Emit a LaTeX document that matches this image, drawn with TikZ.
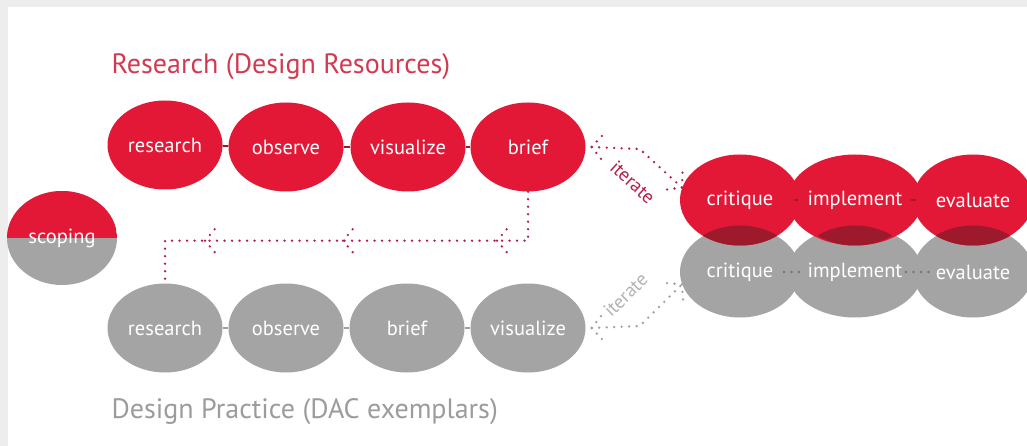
\documentclass[tikz,border=0pt]{standalone}
\usepackage{fontspec}
\setmainfont{PT Sans}
\usetikzlibrary{shapes.geometric,calc,decorations.markings}
\definecolor{dacred}{HTML}{E31837}
\definecolor{dacgray}{HTML}{A4A4A4}
\definecolor{darkred}{HTML}{9C1A2B}
\definecolor{dotred}{HTML}{B32048}
\definecolor{dotgray}{HTML}{A0A0A0}
\definecolor{dotdark}{HTML}{747474}
\definecolor{titlered}{HTML}{D23A52}
\definecolor{titlegray}{HTML}{9C9C9C}
\definecolor{bggray}{HTML}{EDEDED}
\NewDocumentCommand{\darkoverlap}{m m}{
    \begin{scope}
        \clip (#1) ellipse [x radius=60, y radius=45.5];
        \fill[darkred] (#2) ellipse [x radius=60, y radius=46.5];
    \end{scope}
}
\tikzset{
    blob/.style={ellipse, inner sep=0pt, minimum width=115pt, minimum height=89pt,
        text=white, font=\fontsize{20.5}{22}\selectfont},
    redblob/.style={blob, fill=dacred},
    grayblob/.style={blob, fill=dacgray},
    wideblob/.style={minimum width=120pt, minimum height=91pt},
    rdots/.style={draw=dotred, line width=2.6pt, line cap=round, dash pattern=on 0pt off 7.5pt},
    gdots/.style={rdots, draw=dotgray},
    ddots/.style={rdots, draw=dotdark},
    redjoin/.style={draw=darkred, line width=1.6pt},
    grayjoin/.style={draw=dotgray, line width=1.6pt},
    itlabel/.style={font=\fontsize{19}{20}\selectfont, inner sep=2pt},
    tipends/.style={postaction={decorate, decoration={markings,
        mark=at position 0 with {\draw[#1] (0,0) -- (11,-13) (0,0) -- (11,13);},
        mark=at position 0.999 with {\draw[#1] (0,0) -- (-11,-13) (0,0) -- (-11,13);}}}},
    midtips/.style={postaction={decorate, decoration={markings,
        mark=at position 80pt with {\draw[#1] (0,0) -- (-11,-13) (0,0) -- (-11,13);},
        mark=at position 234pt with {\draw[#1] (0,0) -- (-11,-13) (0,0) -- (-11,13);},
        mark=at position 372pt with {\draw[#1] (0,0) -- (-11,-13) (0,0) -- (-11,13);}}}}
}
\begin{document}
\begin{tikzpicture}[x=1pt, y=-1pt]
    \useasboundingbox (0,0) rectangle (1027,446);
    \fill[bggray] (0,0) rectangle (1027,446);
    \fill[white] (8,7) rectangle (1027,446);

    \node[anchor=west, text=titlered, font=\fontsize{28}{30}\selectfont] (toptitle) at (108,67) {Research (Design Resources)};
    \node[anchor=west, text=titlegray, font=\fontsize{28}{30}\selectfont] (bottitle) at (108,412) {Design Practice (DAC exemplars)};

    \node[grayblob, minimum width=110pt, minimum height=94pt,
        path picture={\fill[dacred] (path picture bounding box.north west) rectangle (path picture bounding box.east);}]
        (sc) at (62,238) {scoping};

    \node[redblob] (r1) at (165,145) {research};
    \node[redblob] (o1) at (286,147) {observe};
    \node[redblob] (vz1) at (408,147) {visualize};
    \node[redblob] (b1) at (528,147) {brief};
    \draw[redjoin] (r1) -- (o1);
    \draw[redjoin] (o1) -- (vz1);
    \draw[redjoin] (vz1) -- (b1);

    \node[grayblob] (r2) at (165,328) {research};
    \node[grayblob] (o2) at (286,328) {observe};
    \node[grayblob] (b2) at (407,328) {brief};
    \node[grayblob] (vz2) at (528,328) {visualize};
    \draw[grayjoin] (r2) -- (o2);
    \draw[grayjoin] (o2) -- (b2);
    \draw[grayjoin] (b2) -- (vz2);

    \node[grayblob, wideblob] (c2) at (740,272) {critique};
    \node[grayblob, wideblob] (i2) at (855,272) {implement};
    \node[grayblob, wideblob] (e2) at (973,272) {evaluate};
    \node[redblob, wideblob] (c1) at (740,200) {critique};
    \node[redblob, wideblob] (i1) at (855,200) {implement};
    \node[redblob, wideblob] (e1) at (973,200) {evaluate};
    \darkoverlap{c1}{c2}
    \darkoverlap{i1}{i2}
    \darkoverlap{e1}{e2}
    \draw[redjoin] ($(c1)+(55,0)$) -- ($(i1)+(-57,0)$);
    \draw[redjoin] ($(i1)+(56,0)$) -- ($(e1)+(-57,0)$);
    \draw[ddots] ($(c2)+(44,0)$) -- ($(i2)+(-50,0)$);
    \draw[ddots] ($(i2)+(51,0)$) -- ($(e2)+(-42,0)$);

    \draw[rdots, midtips=rdots] (b1.south) -- ++(0,49) -| (r2.north);

    \draw[rdots, tipends=rdots] ($(b1.east)+(6,0)$) -- ++(48,2) -- (c1.168)
        node[pos=0.3, sloped, below=19pt, itlabel, text=dotred] {iterate};
    \draw[gdots, tipends=gdots] ($(vz2.east)+(6,0)$) -- ++(48,-2) -- (c2.192)
        node[pos=0.2, sloped, above=22pt, itlabel, text=dotgray!80] {iterate};
\end{tikzpicture}
\end{document}
